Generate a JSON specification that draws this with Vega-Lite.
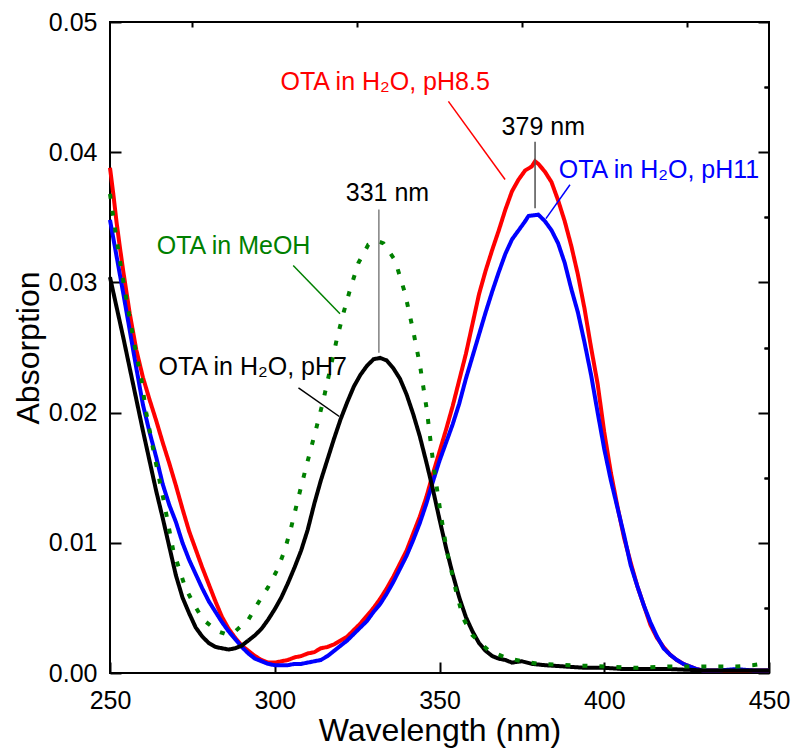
{
  "$schema": "https://vega.github.io/schema/vega-lite/v6.json",
  "width": 659,
  "height": 651,
  "autosize": "none",
  "padding": {"left": 110, "top": 22, "right": 23, "bottom": 78},
  "background": "white",
  "datasets": {
    "spectra": [
      {"wl":250,"a":0.0388,"s":"pH8.5"},{"wl":251,"a":0.0368,"s":"pH8.5"},{"wl":252,"a":0.0346,"s":"pH8.5"},{"wl":253,"a":0.0327,"s":"pH8.5"},{"wl":254,"a":0.0309,"s":"pH8.5"},{"wl":256,"a":0.0276,"s":"pH8.5"},{"wl":258,"a":0.0248,"s":"pH8.5"},{"wl":260,"a":0.0227,"s":"pH8.5"},{"wl":262,"a":0.0210,"s":"pH8.5"},{"wl":264,"a":0.0194,"s":"pH8.5"},{"wl":266,"a":0.0177,"s":"pH8.5"},{"wl":268,"a":0.0161,"s":"pH8.5"},{"wl":270,"a":0.0144,"s":"pH8.5"},{"wl":272,"a":0.0126,"s":"pH8.5"},{"wl":274,"a":0.0109,"s":"pH8.5"},{"wl":276,"a":0.0095,"s":"pH8.5"},{"wl":278,"a":0.0081,"s":"pH8.5"},{"wl":280,"a":0.0068,"s":"pH8.5"},{"wl":282,"a":0.0055,"s":"pH8.5"},{"wl":284,"a":0.0043,"s":"pH8.5"},{"wl":286,"a":0.0034,"s":"pH8.5"},{"wl":288,"a":0.0027,"s":"pH8.5"},{"wl":290,"a":0.0021,"s":"pH8.5"},{"wl":292,"a":0.0017,"s":"pH8.5"},{"wl":294,"a":0.0013,"s":"pH8.5"},{"wl":296,"a":0.0010,"s":"pH8.5"},{"wl":298,"a":0.0008,"s":"pH8.5"},{"wl":300,"a":0.0008,"s":"pH8.5"},{"wl":302,"a":0.0009,"s":"pH8.5"},{"wl":304,"a":0.0010,"s":"pH8.5"},{"wl":306,"a":0.0012,"s":"pH8.5"},{"wl":308,"a":0.0013,"s":"pH8.5"},{"wl":310,"a":0.0015,"s":"pH8.5"},{"wl":312,"a":0.0016,"s":"pH8.5"},{"wl":314,"a":0.0019,"s":"pH8.5"},{"wl":316,"a":0.0020,"s":"pH8.5"},{"wl":318,"a":0.0022,"s":"pH8.5"},{"wl":320,"a":0.0025,"s":"pH8.5"},{"wl":322,"a":0.0028,"s":"pH8.5"},{"wl":324,"a":0.0033,"s":"pH8.5"},{"wl":326,"a":0.0038,"s":"pH8.5"},{"wl":328,"a":0.0044,"s":"pH8.5"},{"wl":330,"a":0.0050,"s":"pH8.5"},{"wl":332,"a":0.0057,"s":"pH8.5"},{"wl":334,"a":0.0065,"s":"pH8.5"},{"wl":336,"a":0.0074,"s":"pH8.5"},{"wl":338,"a":0.0084,"s":"pH8.5"},{"wl":340,"a":0.0094,"s":"pH8.5"},{"wl":342,"a":0.0107,"s":"pH8.5"},{"wl":344,"a":0.0120,"s":"pH8.5"},{"wl":346,"a":0.0135,"s":"pH8.5"},{"wl":348,"a":0.0153,"s":"pH8.5"},{"wl":350,"a":0.0170,"s":"pH8.5"},{"wl":352,"a":0.0187,"s":"pH8.5"},{"wl":354,"a":0.0205,"s":"pH8.5"},{"wl":356,"a":0.0225,"s":"pH8.5"},{"wl":358,"a":0.0245,"s":"pH8.5"},{"wl":360,"a":0.0268,"s":"pH8.5"},{"wl":362,"a":0.0291,"s":"pH8.5"},{"wl":364,"a":0.0309,"s":"pH8.5"},{"wl":366,"a":0.0325,"s":"pH8.5"},{"wl":368,"a":0.0340,"s":"pH8.5"},{"wl":370,"a":0.0356,"s":"pH8.5"},{"wl":372,"a":0.0370,"s":"pH8.5"},{"wl":374,"a":0.0379,"s":"pH8.5"},{"wl":376,"a":0.0386,"s":"pH8.5"},{"wl":378,"a":0.0389,"s":"pH8.5"},{"wl":379,"a":0.0393,"s":"pH8.5"},{"wl":380,"a":0.0391,"s":"pH8.5"},{"wl":382,"a":0.0385,"s":"pH8.5"},{"wl":384,"a":0.0377,"s":"pH8.5"},{"wl":386,"a":0.0363,"s":"pH8.5"},{"wl":388,"a":0.0347,"s":"pH8.5"},{"wl":390,"a":0.0328,"s":"pH8.5"},{"wl":392,"a":0.0306,"s":"pH8.5"},{"wl":394,"a":0.0280,"s":"pH8.5"},{"wl":396,"a":0.0250,"s":"pH8.5"},{"wl":398,"a":0.0222,"s":"pH8.5"},{"wl":400,"a":0.0185,"s":"pH8.5"},{"wl":402,"a":0.0154,"s":"pH8.5"},{"wl":404,"a":0.0128,"s":"pH8.5"},{"wl":406,"a":0.0104,"s":"pH8.5"},{"wl":408,"a":0.0085,"s":"pH8.5"},{"wl":410,"a":0.0067,"s":"pH8.5"},{"wl":412,"a":0.0052,"s":"pH8.5"},{"wl":414,"a":0.0037,"s":"pH8.5"},{"wl":416,"a":0.0027,"s":"pH8.5"},{"wl":418,"a":0.0020,"s":"pH8.5"},{"wl":420,"a":0.0014,"s":"pH8.5"},{"wl":422,"a":0.0010,"s":"pH8.5"},{"wl":424,"a":0.0007,"s":"pH8.5"},{"wl":426,"a":0.0005,"s":"pH8.5"},{"wl":428,"a":0.0003,"s":"pH8.5"},{"wl":430,"a":0.0002,"s":"pH8.5"},{"wl":435,"a":0.0002,"s":"pH8.5"},{"wl":440,"a":0.0002,"s":"pH8.5"},{"wl":445,"a":0.0002,"s":"pH8.5"},{"wl":450,"a":0.0002,"s":"pH8.5"},

      {"wl":250,"a":0.0348,"s":"pH11"},{"wl":251,"a":0.0334,"s":"pH11"},{"wl":252,"a":0.0320,"s":"pH11"},{"wl":253,"a":0.0306,"s":"pH11"},{"wl":254,"a":0.0292,"s":"pH11"},{"wl":256,"a":0.0263,"s":"pH11"},{"wl":258,"a":0.0234,"s":"pH11"},{"wl":260,"a":0.0206,"s":"pH11"},{"wl":262,"a":0.0185,"s":"pH11"},{"wl":264,"a":0.0166,"s":"pH11"},{"wl":266,"a":0.0145,"s":"pH11"},{"wl":268,"a":0.0129,"s":"pH11"},{"wl":270,"a":0.0116,"s":"pH11"},{"wl":272,"a":0.0100,"s":"pH11"},{"wl":274,"a":0.0087,"s":"pH11"},{"wl":276,"a":0.0076,"s":"pH11"},{"wl":278,"a":0.0065,"s":"pH11"},{"wl":280,"a":0.0055,"s":"pH11"},{"wl":282,"a":0.0047,"s":"pH11"},{"wl":284,"a":0.0039,"s":"pH11"},{"wl":286,"a":0.0032,"s":"pH11"},{"wl":288,"a":0.0026,"s":"pH11"},{"wl":290,"a":0.0020,"s":"pH11"},{"wl":292,"a":0.0015,"s":"pH11"},{"wl":294,"a":0.0011,"s":"pH11"},{"wl":296,"a":0.0009,"s":"pH11"},{"wl":298,"a":0.0007,"s":"pH11"},{"wl":300,"a":0.0006,"s":"pH11"},{"wl":302,"a":0.0006,"s":"pH11"},{"wl":304,"a":0.0006,"s":"pH11"},{"wl":306,"a":0.0007,"s":"pH11"},{"wl":308,"a":0.0007,"s":"pH11"},{"wl":310,"a":0.0008,"s":"pH11"},{"wl":312,"a":0.0009,"s":"pH11"},{"wl":314,"a":0.0010,"s":"pH11"},{"wl":316,"a":0.0013,"s":"pH11"},{"wl":318,"a":0.0017,"s":"pH11"},{"wl":320,"a":0.0021,"s":"pH11"},{"wl":322,"a":0.0025,"s":"pH11"},{"wl":324,"a":0.0030,"s":"pH11"},{"wl":326,"a":0.0035,"s":"pH11"},{"wl":328,"a":0.0040,"s":"pH11"},{"wl":330,"a":0.0047,"s":"pH11"},{"wl":332,"a":0.0053,"s":"pH11"},{"wl":334,"a":0.0061,"s":"pH11"},{"wl":336,"a":0.0070,"s":"pH11"},{"wl":338,"a":0.0080,"s":"pH11"},{"wl":340,"a":0.0090,"s":"pH11"},{"wl":342,"a":0.0102,"s":"pH11"},{"wl":344,"a":0.0115,"s":"pH11"},{"wl":346,"a":0.0130,"s":"pH11"},{"wl":348,"a":0.0147,"s":"pH11"},{"wl":350,"a":0.0163,"s":"pH11"},{"wl":352,"a":0.0177,"s":"pH11"},{"wl":354,"a":0.0191,"s":"pH11"},{"wl":356,"a":0.0207,"s":"pH11"},{"wl":358,"a":0.0226,"s":"pH11"},{"wl":360,"a":0.0243,"s":"pH11"},{"wl":362,"a":0.0260,"s":"pH11"},{"wl":364,"a":0.0277,"s":"pH11"},{"wl":366,"a":0.0293,"s":"pH11"},{"wl":368,"a":0.0308,"s":"pH11"},{"wl":370,"a":0.0322,"s":"pH11"},{"wl":372,"a":0.0333,"s":"pH11"},{"wl":374,"a":0.0340,"s":"pH11"},{"wl":376,"a":0.0347,"s":"pH11"},{"wl":377,"a":0.0351,"s":"pH11"},{"wl":380,"a":0.0352,"s":"pH11"},{"wl":382,"a":0.0347,"s":"pH11"},{"wl":384,"a":0.0340,"s":"pH11"},{"wl":386,"a":0.0330,"s":"pH11"},{"wl":388,"a":0.0315,"s":"pH11"},{"wl":390,"a":0.0295,"s":"pH11"},{"wl":392,"a":0.0277,"s":"pH11"},{"wl":394,"a":0.0254,"s":"pH11"},{"wl":396,"a":0.0229,"s":"pH11"},{"wl":398,"a":0.0200,"s":"pH11"},{"wl":400,"a":0.0172,"s":"pH11"},{"wl":402,"a":0.0148,"s":"pH11"},{"wl":404,"a":0.0127,"s":"pH11"},{"wl":406,"a":0.0106,"s":"pH11"},{"wl":408,"a":0.0083,"s":"pH11"},{"wl":410,"a":0.0067,"s":"pH11"},{"wl":412,"a":0.0052,"s":"pH11"},{"wl":414,"a":0.0039,"s":"pH11"},{"wl":416,"a":0.0028,"s":"pH11"},{"wl":418,"a":0.0019,"s":"pH11"},{"wl":420,"a":0.0014,"s":"pH11"},{"wl":422,"a":0.0010,"s":"pH11"},{"wl":424,"a":0.0007,"s":"pH11"},{"wl":426,"a":0.0005,"s":"pH11"},{"wl":428,"a":0.0003,"s":"pH11"},{"wl":430,"a":0.0002,"s":"pH11"},{"wl":435,"a":0.0002,"s":"pH11"},{"wl":440,"a":0.0003,"s":"pH11"},{"wl":445,"a":0.0002,"s":"pH11"},{"wl":450,"a":0.0002,"s":"pH11"},

      {"wl":250,"a":0.0304,"s":"pH7"},{"wl":252,"a":0.0281,"s":"pH7"},{"wl":254,"a":0.0258,"s":"pH7"},{"wl":256,"a":0.0234,"s":"pH7"},{"wl":258,"a":0.0210,"s":"pH7"},{"wl":260,"a":0.0186,"s":"pH7"},{"wl":262,"a":0.0163,"s":"pH7"},{"wl":264,"a":0.0140,"s":"pH7"},{"wl":266,"a":0.0119,"s":"pH7"},{"wl":268,"a":0.0097,"s":"pH7"},{"wl":270,"a":0.0075,"s":"pH7"},{"wl":272,"a":0.0058,"s":"pH7"},{"wl":274,"a":0.0046,"s":"pH7"},{"wl":276,"a":0.0035,"s":"pH7"},{"wl":278,"a":0.0028,"s":"pH7"},{"wl":280,"a":0.0023,"s":"pH7"},{"wl":282,"a":0.0020,"s":"pH7"},{"wl":284,"a":0.0019,"s":"pH7"},{"wl":286,"a":0.0018,"s":"pH7"},{"wl":288,"a":0.0019,"s":"pH7"},{"wl":290,"a":0.0021,"s":"pH7"},{"wl":292,"a":0.0025,"s":"pH7"},{"wl":294,"a":0.0029,"s":"pH7"},{"wl":296,"a":0.0034,"s":"pH7"},{"wl":298,"a":0.0041,"s":"pH7"},{"wl":300,"a":0.0049,"s":"pH7"},{"wl":302,"a":0.0058,"s":"pH7"},{"wl":304,"a":0.0069,"s":"pH7"},{"wl":306,"a":0.0081,"s":"pH7"},{"wl":308,"a":0.0094,"s":"pH7"},{"wl":310,"a":0.0110,"s":"pH7"},{"wl":312,"a":0.0130,"s":"pH7"},{"wl":314,"a":0.0148,"s":"pH7"},{"wl":316,"a":0.0164,"s":"pH7"},{"wl":318,"a":0.0180,"s":"pH7"},{"wl":320,"a":0.0195,"s":"pH7"},{"wl":322,"a":0.0208,"s":"pH7"},{"wl":324,"a":0.0220,"s":"pH7"},{"wl":326,"a":0.0229,"s":"pH7"},{"wl":328,"a":0.0236,"s":"pH7"},{"wl":330,"a":0.0241,"s":"pH7"},{"wl":332,"a":0.0242,"s":"pH7"},{"wl":334,"a":0.0240,"s":"pH7"},{"wl":336,"a":0.0234,"s":"pH7"},{"wl":338,"a":0.0226,"s":"pH7"},{"wl":340,"a":0.0214,"s":"pH7"},{"wl":342,"a":0.0199,"s":"pH7"},{"wl":344,"a":0.0182,"s":"pH7"},{"wl":346,"a":0.0162,"s":"pH7"},{"wl":348,"a":0.0141,"s":"pH7"},{"wl":350,"a":0.0118,"s":"pH7"},{"wl":352,"a":0.0096,"s":"pH7"},{"wl":354,"a":0.0076,"s":"pH7"},{"wl":356,"a":0.0058,"s":"pH7"},{"wl":358,"a":0.0043,"s":"pH7"},{"wl":360,"a":0.0032,"s":"pH7"},{"wl":362,"a":0.0023,"s":"pH7"},{"wl":364,"a":0.0017,"s":"pH7"},{"wl":366,"a":0.0013,"s":"pH7"},{"wl":368,"a":0.0011,"s":"pH7"},{"wl":370,"a":0.0010,"s":"pH7"},{"wl":372,"a":0.0008,"s":"pH7"},{"wl":375,"a":0.0009,"s":"pH7"},{"wl":378,"a":0.0007,"s":"pH7"},{"wl":382,"a":0.0006,"s":"pH7"},{"wl":388,"a":0.0005,"s":"pH7"},{"wl":394,"a":0.0004,"s":"pH7"},{"wl":400,"a":0.0004,"s":"pH7"},{"wl":406,"a":0.0003,"s":"pH7"},{"wl":412,"a":0.0003,"s":"pH7"},{"wl":420,"a":0.0003,"s":"pH7"},{"wl":430,"a":0.0002,"s":"pH7"},{"wl":440,"a":0.0002,"s":"pH7"},{"wl":450,"a":0.0002,"s":"pH7"},

      {"wl":250,"a":0.0368,"s":"MeOH"},{"wl":251,"a":0.0350,"s":"MeOH"},{"wl":252,"a":0.0333,"s":"MeOH"},{"wl":253.5,"a":0.0309,"s":"MeOH"},{"wl":255.6,"a":0.0278,"s":"MeOH"},{"wl":257.6,"a":0.0250,"s":"MeOH"},{"wl":259.6,"a":0.0224,"s":"MeOH"},{"wl":261,"a":0.0200,"s":"MeOH"},{"wl":263.7,"a":0.0164,"s":"MeOH"},{"wl":266.1,"a":0.0135,"s":"MeOH"},{"wl":269.2,"a":0.0094,"s":"MeOH"},{"wl":272.8,"a":0.0066,"s":"MeOH"},{"wl":275.2,"a":0.0054,"s":"MeOH"},{"wl":278.2,"a":0.0041,"s":"MeOH"},{"wl":282.8,"a":0.0032,"s":"MeOH"},{"wl":285,"a":0.0030,"s":"MeOH"},{"wl":288,"a":0.0032,"s":"MeOH"},{"wl":292,"a":0.0041,"s":"MeOH"},{"wl":295,"a":0.0054,"s":"MeOH"},{"wl":298,"a":0.0066,"s":"MeOH"},{"wl":300.7,"a":0.0079,"s":"MeOH"},{"wl":303,"a":0.0094,"s":"MeOH"},{"wl":305,"a":0.0112,"s":"MeOH"},{"wl":307,"a":0.0133,"s":"MeOH"},{"wl":309.7,"a":0.0160,"s":"MeOH"},{"wl":312.7,"a":0.0189,"s":"MeOH"},{"wl":314.7,"a":0.0209,"s":"MeOH"},{"wl":316.8,"a":0.0233,"s":"MeOH"},{"wl":318.8,"a":0.0256,"s":"MeOH"},{"wl":320.8,"a":0.0276,"s":"MeOH"},{"wl":322.8,"a":0.0294,"s":"MeOH"},{"wl":325.4,"a":0.0315,"s":"MeOH"},{"wl":328.4,"a":0.0329,"s":"MeOH"},{"wl":331,"a":0.0332,"s":"MeOH"},{"wl":333,"a":0.0330,"s":"MeOH"},{"wl":336.5,"a":0.0317,"s":"MeOH"},{"wl":339.5,"a":0.0292,"s":"MeOH"},{"wl":342,"a":0.0263,"s":"MeOH"},{"wl":344.1,"a":0.0236,"s":"MeOH"},{"wl":346.1,"a":0.0203,"s":"MeOH"},{"wl":348.1,"a":0.0161,"s":"MeOH"},{"wl":350.2,"a":0.0125,"s":"MeOH"},{"wl":352.2,"a":0.0094,"s":"MeOH"},{"wl":355.2,"a":0.0061,"s":"MeOH"},{"wl":357.2,"a":0.0042,"s":"MeOH"},{"wl":360,"a":0.0029,"s":"MeOH"},{"wl":365,"a":0.0017,"s":"MeOH"},{"wl":370,"a":0.0012,"s":"MeOH"},{"wl":375,"a":0.0009,"s":"MeOH"},{"wl":380,"a":0.0007,"s":"MeOH"},{"wl":390,"a":0.0006,"s":"MeOH"},{"wl":400,"a":0.0005,"s":"MeOH"},{"wl":410,"a":0.0004,"s":"MeOH"},{"wl":420,"a":0.0005,"s":"MeOH"},{"wl":430,"a":0.0005,"s":"MeOH"},{"wl":440,"a":0.0005,"s":"MeOH"},{"wl":445,"a":0.0006,"s":"MeOH"},{"wl":450,"a":0.0008,"s":"MeOH"}
    ],
    "leaders": [
      {"x":331.6,"y":0.0356,"x2":331.6,"y2":0.0246,"c":"#808080"},
      {"x":379,"y":0.0408,"x2":379,"y2":0.0357,"c":"#505050"},
      {"x":352.7,"y":0.0439,"x2":369.9,"y2":0.0379,"c":"#ff0000"},
      {"x":389.6,"y":0.0375,"x2":382.3,"y2":0.0349,"c":"#0000ff"},
      {"x":305.6,"y":0.0313,"x2":319.8,"y2":0.0276,"c":"#008000"},
      {"x":307.2,"y":0.0219,"x2":319.6,"y2":0.0197,"c":"#000000"}
    ],
    "labels": [
      {"x":333.5,"y":0.0454,"t":"OTA in H₂O, pH8.5","c":"#ff0000"},
      {"x":381.5,"y":0.0419,"t":"379 nm","c":"#000000"},
      {"x":416.6,"y":0.0386,"t":"OTA in H₂O, pH11","c":"#0000ff"},
      {"x":334.2,"y":0.0369,"t":"331 nm","c":"#000000"},
      {"x":287.5,"y":0.0328,"t":"OTA in MeOH","c":"#008000"},
      {"x":293.3,"y":0.0235,"t":"OTA in H₂O, pH7","c":"#000000"}
    ]
  },
  "resolve": {"axis": {"x": "independent", "y": "independent"}},
  "layer": [
    {
      "data": {"name": "spectra"},
      "mark": {"type": "line", "strokeWidth": 4, "strokeCap": "butt"},
      "encoding": {
        "x": {"field": "wl", "type": "quantitative", "scale": {"domain": [250, 450], "nice": false, "zero": false},
              "axis": {"values": [250, 300, 350, 400, 450], "tickSize": -11, "labelPadding": 26, "title": "Wavelength (nm)", "titlePadding": 2, "labelFlush": false}},
        "y": {"field": "a", "type": "quantitative", "scale": {"domain": [0, 0.05], "nice": false, "zero": false},
              "axis": {"values": [0, 0.01, 0.02, 0.03, 0.04, 0.05], "format": ".2f", "tickSize": -11, "labelPadding": 24, "title": "Absorption", "titlePadding": 3, "labelFlush": false}},
        "color": {"field": "s", "type": "nominal", "legend": null,
                  "scale": {"domain": ["pH8.5", "pH11", "pH7", "MeOH"], "range": ["#ff0000", "#0000ff", "#000000", "#008000"]}},
        "strokeDash": {"field": "s", "type": "nominal", "legend": null,
                  "scale": {"domain": ["pH8.5", "pH11", "pH7", "MeOH"], "range": [[1, 0], [1, 0], [1, 0], [5, 12]]}}
      }
    },
    {
      "data": {"name": "spectra"},
      "mark": {"type": "point", "opacity": 0},
      "encoding": {
        "x": {"field": "wl", "type": "quantitative",
              "axis": {"values": [275, 325, 375, 425], "tickSize": -5, "labels": false, "title": null}},
        "y": {"field": "a", "type": "quantitative",
              "axis": {"values": [0.005, 0.015, 0.025, 0.035, 0.045], "tickSize": -5, "labels": false, "title": null}}
      }
    },
    {
      "data": {"name": "spectra"},
      "mark": {"type": "point", "opacity": 0},
      "encoding": {
        "x": {"field": "wl", "type": "quantitative", "axis": null},
        "y": {"field": "a", "type": "quantitative",
              "axis": {"orient": "right", "values": [0, 0.01, 0.02, 0.03, 0.04, 0.05], "tickSize": -11, "labels": false, "title": null}}
      }
    },
    {
      "data": {"name": "spectra"},
      "mark": {"type": "point", "opacity": 0},
      "encoding": {
        "x": {"field": "wl", "type": "quantitative", "axis": null},
        "y": {"field": "a", "type": "quantitative",
              "axis": {"orient": "right", "values": [0.005, 0.015, 0.025, 0.035, 0.045], "tickSize": -5, "labels": false, "title": null}}
      }
    },
    {
      "data": {"name": "leaders"},
      "mark": {"type": "rule", "strokeWidth": 1.5},
      "encoding": {
        "x": {"field": "x", "type": "quantitative", "axis": null},
        "y": {"field": "y", "type": "quantitative", "axis": null},
        "x2": {"field": "x2"},
        "y2": {"field": "y2"},
        "color": {"field": "c", "type": "nominal", "scale": null}
      }
    },
    {
      "data": {"name": "labels"},
      "mark": {"type": "text", "fontSize": 25, "font": "Liberation Sans", "align": "center", "baseline": "middle"},
      "encoding": {
        "x": {"field": "x", "type": "quantitative", "axis": null},
        "y": {"field": "y", "type": "quantitative", "axis": null},
        "text": {"field": "t"},
        "color": {"field": "c", "type": "nominal", "scale": null}
      }
    }
  ],
  "config": {
    "view": {"stroke": "black", "strokeWidth": 2},
    "axis": {
      "grid": false, "domain": false, "tickColor": "black", "tickWidth": 2,
      "labelFont": "Liberation Sans", "labelFontSize": 25, "labelColor": "black",
      "titleFont": "Liberation Sans", "titleFontSize": 32, "titleFontWeight": "normal", "titleColor": "black"
    }
  }
}
